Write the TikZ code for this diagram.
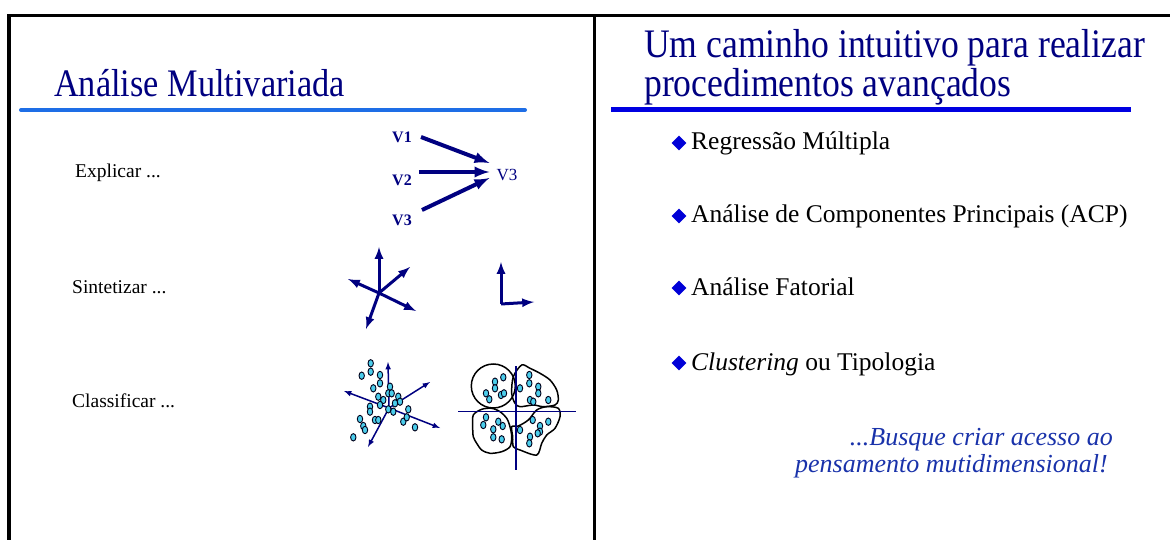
\documentclass[tikz,border=0pt]{standalone}
\usepackage{fontspec}
\setmainfont{Liberation Serif}
\newfontfamily\titlefont[FakeStretch=0.88]{Liberation Serif}
\usepackage{tikz}
\usetikzlibrary{arrows,shapes.geometric}

\definecolor{titlenavy}{RGB}{0,0,128}
\definecolor{rulesky}{RGB}{30,110,230}
\definecolor{ruleblue}{RGB}{0,0,225}
\definecolor{bulletblue}{RGB}{0,0,215}
\definecolor{quoteblue}{RGB}{25,50,170}
\definecolor{dotcyan}{RGB}{75,205,235}

\tikzset{
  frameline/.style={line width=3.2pt},
  heading/.style={anchor=base west, inner sep=0pt, text=titlenavy,
    font=\titlefont\fontsize{39}{39}\selectfont},
  label/.style={anchor=base west, inner sep=0pt, font=\fontsize{19.5}{19.5}\selectfont},
  item/.style={anchor=base west, inner sep=0pt, font=\fontsize{25.5}{25.5}\selectfont},
  bulletmark/.style={diamond, aspect=1, fill=bulletblue, inner sep=0pt,
    minimum width=15pt, minimum height=15pt},
  quote/.style={anchor=base east, inner sep=0pt, text=quoteblue,
    font=\itshape\fontsize{26}{26}\selectfont},
  varname/.style={inner sep=0pt, text=titlenavy, font=\bfseries\fontsize{16}{16}\selectfont},
  vec/.style={draw=titlenavy, line width=4pt, -latex},
  axis/.style={draw=titlenavy, line width=3pt, -latex},
  thinaxis/.style={draw=titlenavy, line width=1.5pt},
  blob/.style={draw=black, line width=1.5pt},
  dot/.style={draw=black!80!titlenavy, line width=0.9pt, fill=dotcyan}
}

\begin{document}
\begin{tikzpicture}[x=1pt,y=-1pt]
  \useasboundingbox (0,0) rectangle (1170,540);

  % frame
  \draw[frameline] (9,540) -- (9,15.7) -- (1170,15.7);
  \draw[frameline] (594.7,15.7) -- (594.7,540);

  % left slide
  \node[heading] (ltitle) at (54,97) {Análise Multivariada};
  \draw[rulesky, line width=4pt, line cap=round] (21,110) -- (525,110);

  \node[label] (explicar) at (75,178) {Explicar ...};
  \node[label] (sintetizar) at (72,293) {Sintetizar ...};
  \node[label] (classificar) at (72,407) {Classificar ...};

  % explicar: V1, V2, V3 -> V3
  \node[varname] (v1) at (402,137) {V1};
  \node[varname] (v2) at (402,180) {V2};
  \node[varname] (v3) at (402,220) {V3};
  \node[inner sep=0pt, text=titlenavy, font=\fontsize{17}{17}\selectfont] (vt) at (507,175) {V3};
  \draw[vec] ([xshift=9pt]v1.east) -- ([xshift=-7pt,yshift=12pt]vt.west);
  \draw[vec] ([xshift=7pt,yshift=8pt]v2.east) -- ([xshift=-7pt,yshift=3pt]vt.west);
  \draw[vec] ([xshift=10pt,yshift=10pt]v3.east) -- ([xshift=-7pt,yshift=-3pt]vt.west);

  % sintetizar: star and L
  \coordinate (sc) at (379,293);
  \foreach \tip in {(379,247),(410,267),(348,279),(416,311),(366,329)}
    \draw[axis] (sc) -- \tip;
  \coordinate (lc) at (501,304);
  \draw[axis] (lc) -- (501,262);
  \draw[axis] (lc) -- (534,302);

  % classificar: scatter
  \coordinate (cc) at (389,408);
  \foreach \tip in {(388,362),(344,391),(440,428),(368,447),(430,382)}
    \draw[thinaxis, -latex] (cc) -- \tip;
  \foreach \p in {(370.7,363.3),(370.7,371.7),(361.7,375.7),(380,375),(380,383.3),
      (373.3,388.3),(390,386.7),(388.3,393.3),(391.7,393.3),(378.3,396.7),
      (383.3,400),(380,405),(398.3,396.7),(400,401.7),(395,403.3),(388.3,409.3),
      (393.3,411.7),(370,406.7),(370,411.7),(408.3,409.3),(360,419),(363.3,426),
      (365,430),(375,420),(378.3,420),(403.3,421.7),(406.7,417.3),(415,427.3),
      (353.3,437.3)}
    \draw[dot] \p ellipse [x radius=2.7pt, y radius=3.7pt];

  % classificar: clusters
  \draw[blob] (493.3,386) circle [radius=22pt];
  \draw[blob] plot[smooth cycle, tension=0.5] coordinates {(513.3,376.7) (521.7,365)
    (530,368.3) (540,373.3) (550,380) (556.7,390) (558.3,400) (555,405) (543.3,406.7)
    (533.3,405) (520,406.7) (515,403.3) (511.7,393.3)};
  \draw[blob] plot[smooth cycle, tension=0.5] coordinates {(473.3,415) (481.7,409.3)
    (491.7,408.3) (500,411.7) (506.7,418.3) (510,426.7) (511.7,436.7) (510,446.7)
    (501.7,451.7) (490,453.3) (481.7,450) (476.7,443.3) (473.3,436.7) (472.7,426.7)};
  \draw[blob] plot[smooth cycle, tension=0.5] coordinates {(511.7,426.7) (518.3,426)
    (528.3,420) (536.7,410) (546.7,406.7) (558.3,408.3) (560,416.7) (555,428.3)
    (546.7,435) (541.7,443.3) (536.7,455) (520,450) (513.3,446.7) (512.7,436.7)};
  \draw[thinaxis] (458,411.7) -- (576,411.7);
  \draw[thinaxis] (516,366) -- (516,470);
  \foreach \p in {(495,381.7),(495,388.3),(503.3,377.3),(486,393.3),(489.3,399.3),
      (501,395),(504,393.3),(529.3,375),(529.3,383.3),(520,388.3),(538.3,386.7),
      (538.3,393.3),(530,400),(533.3,401.7),(548.3,400),(486,417.3),(483.3,425),
      (493.3,429.3),(493.3,437.3),(498.3,421.7),(502.7,426),(501.7,439.3),
      (532.7,420),(520,430),(530,436.7),(529.3,443.3),(540,426),(540,431.7),
      (548.3,421.7),(537.7,433.3)}
    \draw[dot] \p ellipse [x radius=2.7pt, y radius=3.7pt];

  % right slide
  \node[heading, font=\titlefont\fontsize{40.5}{40.5}\selectfont] (rtitle1) at (644,58) {Um caminho intuitivo para realizar};
  \node[heading, font=\titlefont\fontsize{40.5}{40.5}\selectfont] (rtitle2) at (644,97) {procedimentos avançados};
  \draw[ruleblue, line width=5pt] (611,110) -- (1131,110);

  \foreach \y/\txt in {150/{Regressão Múltipla},
      223/{Análise de Componentes Principais (ACP)},
      295/{Análise Fatorial},
      370/{\textit{Clustering} ou Tipologia}} {
    \node[bulletmark] (mark-\y) at (679,\y-7) {};
    \node[item] (item-\y) at (691,\y) {\txt};
  }

  \node[quote] (quote1) at (1113,445) {...Busque criar acesso ao};
  \node[quote] (quote2) at (1108,472) {pensamento mutidimensional!};
\end{tikzpicture}
\end{document}
